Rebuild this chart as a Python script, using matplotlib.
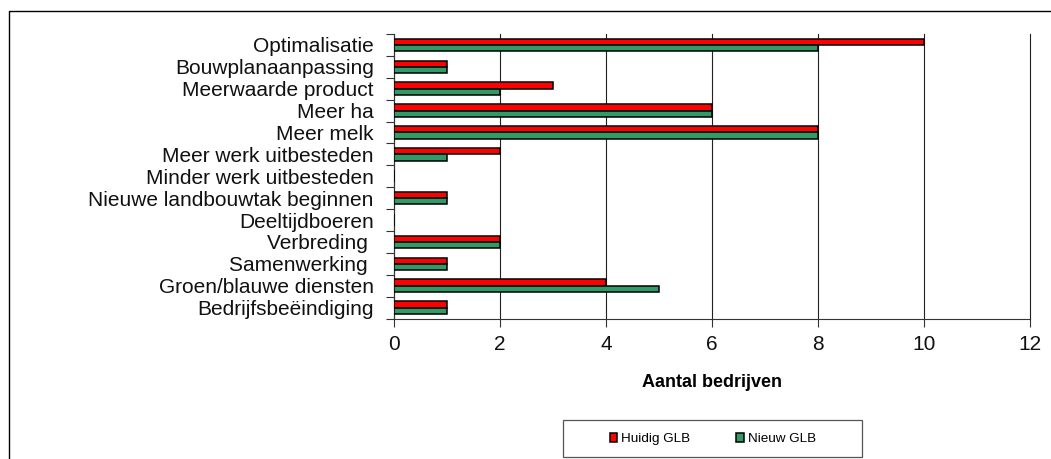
import matplotlib
matplotlib.use("Agg")
import matplotlib.pyplot as plt
from matplotlib.lines import Line2D
from matplotlib.patches import Rectangle
import numpy as np

categories = [
    "Optimalisatie",
    "Bouwplanaanpassing",
    "Meerwaarde product",
    "Meer ha",
    "Meer melk",
    "Meer werk uitbesteden",
    "Minder werk uitbesteden",
    "Nieuwe landbouwtak beginnen",
    "Deeltijdboeren",
    "Verbreding ",
    "Samenwerking ",
    "Groen/blauwe diensten",
    "Bedrijfsbeëindiging",
]
huidig_glb = [10, 1, 3, 6, 8, 2, 0, 1, 0, 2, 1, 4, 1]
nieuw_glb = [8, 1, 2, 6, 8, 1, 0, 1, 0, 2, 1, 5, 1]
series_names = ["Huidig GLB", "Nieuw GLB"]
x_ticks = [0, 2, 4, 6, 8, 10, 12]

plt.rcParams['font.family'] = ['Liberation Sans', 'DejaVu Sans']

W, H = 1051, 459
fig = plt.figure(figsize=(W / 100, H / 100), dpi=100)
ax = fig.add_axes([394 / W, 1 - 318.5 / H, (1030 - 394) / W, (318.5 - 34) / H])

y = np.arange(len(categories))
bh = 0.285
red = "#FF0000"
green = "#339966"
ax.barh(y - bh / 2, huidig_glb, height=bh, color=red, edgecolor="black",
        linewidth=1.1, label=series_names[0], zorder=3)
ax.barh(y + bh / 2, nieuw_glb, height=bh, color=green, edgecolor="black",
        linewidth=1.1, label=series_names[1], zorder=3)

ax.set_xlim(0, 12)
ax.set_ylim(len(categories) - 0.5, -0.5)
ax.set_xticks(x_ticks)
ax.set_xticklabels([str(v) for v in x_ticks], fontsize=15, color="#111111")
ax.tick_params(axis="x", length=6, width=0.8, pad=6, color="#333333")

# category labels at centers, ticks at boundaries
ax.set_yticks(np.arange(len(categories) + 1) - 0.5)
ax.set_yticklabels([])
ax.set_yticks(y, minor=True)
ax.set_yticklabels(categories, minor=True, fontsize=15, color="#111111")
ax.tick_params(axis="y", which="major", length=6, width=0.8, color="#333333")
ax.tick_params(axis="y", which="minor", length=0, pad=14.5)

ax.grid(axis="x", color="#222222", linewidth=0.8, zorder=0)
ax.set_axisbelow(True)
for gl in ax.get_xgridlines():
    gl.set_clip_on(False)
for s in ["top", "right"]:
    ax.spines[s].set_visible(False)
for s in ["left", "bottom"]:
    ax.spines[s].set_color("#333333")
    ax.spines[s].set_linewidth(0.8)

ax.set_xlabel("Aantal bedrijven", fontsize=13, fontweight="bold", labelpad=14)

# legend frame
fig.add_artist(Rectangle((563 / W, 1 - 457 / H), (862 - 563) / W, (457 - 420) / H,
                         transform=fig.transFigure, facecolor="white",
                         edgecolor="#555555", linewidth=0.9, zorder=1))
leg = fig.legend(loc="center left", bbox_to_anchor=(610 / W, 1 - 439 / H),
                 ncol=2, fontsize=9.7, frameon=False,
                 handlelength=0.55, handleheight=0.65, handletextpad=0.3,
                 columnspacing=3.4, borderpad=0, borderaxespad=0)
leg.set_zorder(2)

# outer chart border (left and top visible)
fig.add_artist(Line2D([8.5 / W, 8.5 / W, 1], [0, 1 - 11 / H, 1 - 11 / H],
                      transform=fig.transFigure, color="black", linewidth=1.0))

fig.savefig("out.png", dpi=100)
